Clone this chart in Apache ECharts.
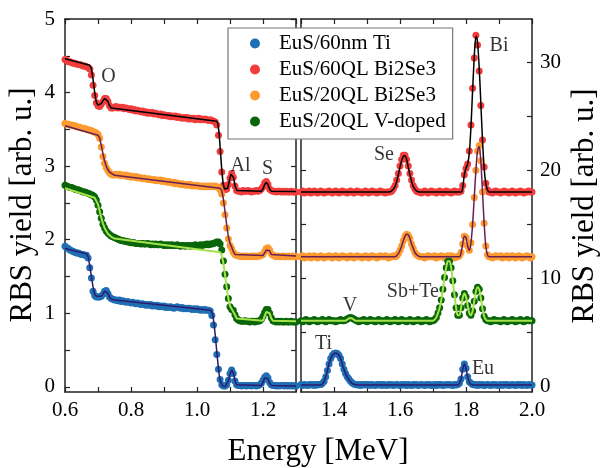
<!DOCTYPE html>
<html><head><meta charset="utf-8">
<script src="https://cdn.jsdelivr.net/npm/echarts@6/dist/echarts.min.js"></script>
<style>html,body{margin:0;padding:0;background:#fff}#c{width:601px;height:468px}</style>
</head><body><div id="c"></div>
<script>
// ---------- data ----------
const sampleNames = ['EuS/60nm Ti', 'EuS/60QL Bi2Se3', 'EuS/20QL Bi2Se3', 'EuS/20QL V-doped'];
const leftEnergyStart = 0.6, rightEnergyStart = 1.3, energyStep = 0.005;

const xTicksLeft = [0.6,0.7,0.8,0.9,1.0,1.1,1.2,1.3];
const xLabelsLeft = [0.6,0.8,1.0,1.2];
const xTicksRight = [1.3,1.4,1.5,1.6,1.7,1.8,1.9,2.0];
const xLabelsRight = [1.4,1.6,1.8,2.0];
const yTicksLeft = [0,0.5,1,1.5,2,2.5,3,3.5,4,4.5,5];
const yLabelsLeft = [0,1,2,3,4,5];
const yTicksRight = [0,5,10,15,20,25,30];
const yLabelsRight = [0,10,20,30];

// measured dots, left panel (0.600 ... 1.300 MeV, 0.005 steps)
const blueLeft = [
1.91,1.89,1.88,1.86,1.85,1.84,1.83,1.82,1.82,1.81,
1.80,1.80,1.79,1.79,1.75,1.62,1.48,1.30,1.24,1.22,
1.22,1.22,1.23,1.26,1.30,1.31,1.27,1.22,1.20,1.19,
1.18,1.18,1.17,1.18,1.16,1.17,1.16,1.15,1.16,1.15,
1.14,1.15,1.14,1.13,1.14,1.13,1.12,1.13,1.12,1.11,
1.12,1.11,1.12,1.10,1.11,1.10,1.11,1.09,1.10,1.09,
1.10,1.08,1.09,1.08,1.09,1.08,1.07,1.08,1.09,1.08,
1.07,1.08,1.06,1.07,1.06,1.07,1.06,1.05,1.06,1.05,
1.06,1.05,1.04,1.05,1.04,1.05,1.04,1.04,1.03,0.97,
0.84,0.64,0.44,0.24,0.10,0.03,0.01,0.01,0.03,0.09,
0.18,0.23,0.18,0.08,0.03,0.02,0.02,0.01,0.02,0.02,
0.01,0.02,0.02,0.01,0.02,0.02,0.01,0.02,0.03,0.05,
0.09,0.13,0.15,0.12,0.06,0.03,0.02,0.02,0.01,0.02,
0.01,0.02,0.02,0.01,0.02,0.01,0.02,0.01,0.02,0.01,
0.01];
const redLeft = [
4.45,4.44,4.42,4.42,4.41,4.40,4.40,4.39,4.38,4.38,
4.37,4.36,4.36,4.35,4.34,4.32,4.24,4.10,3.96,3.86,
3.82,3.81,3.84,3.88,3.92,3.92,3.88,3.82,3.79,3.79,
3.80,3.81,3.79,3.80,3.79,3.80,3.78,3.79,3.78,3.77,
3.78,3.76,3.77,3.75,3.76,3.75,3.74,3.75,3.73,3.74,
3.72,3.73,3.72,3.73,3.71,3.72,3.71,3.70,3.71,3.69,
3.70,3.69,3.68,3.69,3.67,3.68,3.67,3.68,3.66,3.67,
3.66,3.65,3.66,3.65,3.66,3.64,3.65,3.64,3.65,3.63,
3.64,3.65,3.63,3.64,3.63,3.64,3.63,3.62,3.63,3.62,
3.61,3.60,3.56,3.42,3.20,2.92,2.74,2.68,2.69,2.75,
2.84,2.90,2.85,2.73,2.67,2.66,2.66,2.65,2.67,2.66,
2.66,2.67,2.66,2.65,2.66,2.66,2.67,2.66,2.67,2.69,
2.72,2.77,2.79,2.75,2.69,2.67,2.66,2.66,2.65,2.66,
2.66,2.65,2.66,2.65,2.66,2.65,2.65,2.66,2.65,2.65,
2.65];
const orangeLeft = [
3.58,3.57,3.57,3.56,3.56,3.55,3.55,3.54,3.53,3.53,
3.52,3.51,3.51,3.50,3.49,3.49,3.48,3.47,3.46,3.45,
3.43,3.38,3.26,3.13,3.04,2.98,2.94,2.91,2.89,2.88,
2.88,2.89,2.88,2.89,2.87,2.88,2.87,2.88,2.86,2.87,
2.85,2.86,2.85,2.86,2.84,2.85,2.84,2.83,2.84,2.83,
2.82,2.83,2.82,2.81,2.82,2.80,2.81,2.80,2.81,2.79,
2.80,2.79,2.78,2.79,2.78,2.77,2.78,2.76,2.77,2.76,
2.75,2.76,2.75,2.74,2.75,2.74,2.75,2.73,2.74,2.73,
2.74,2.73,2.72,2.73,2.72,2.73,2.72,2.73,2.72,2.73,
2.72,2.73,2.72,2.71,2.68,2.62,2.50,2.34,2.16,2.01,
1.92,1.88,1.83,1.80,1.79,1.78,1.78,1.77,1.78,1.77,
1.78,1.77,1.77,1.78,1.77,1.78,1.77,1.78,1.78,1.79,
1.80,1.84,1.88,1.89,1.86,1.81,1.79,1.78,1.77,1.78,
1.77,1.77,1.78,1.77,1.77,1.78,1.77,1.77,1.78,1.77,
1.77];
const greenLeft = [
2.74,2.73,2.72,2.71,2.71,2.70,2.69,2.68,2.68,2.67,
2.66,2.65,2.65,2.64,2.63,2.62,2.61,2.60,2.58,2.54,
2.47,2.38,2.29,2.21,2.16,2.12,2.09,2.07,2.05,2.04,
2.03,2.02,2.01,2.00,1.99,1.99,1.98,1.98,1.97,1.97,
1.96,1.96,1.96,1.95,1.95,1.95,1.94,1.95,1.94,1.94,
1.95,1.94,1.93,1.94,1.93,1.94,1.93,1.93,1.94,1.93,
1.92,1.93,1.92,1.93,1.92,1.93,1.92,1.92,1.93,1.92,
1.91,1.92,1.92,1.91,1.92,1.92,1.91,1.92,1.92,1.93,
1.92,1.92,1.93,1.92,1.93,1.93,1.94,1.93,1.94,1.94,
1.95,1.96,1.97,1.97,1.94,1.86,1.71,1.53,1.36,1.20,
1.09,1.05,1.04,0.98,0.93,0.91,0.90,0.89,0.89,0.90,
0.89,0.89,0.88,0.89,0.89,0.88,0.89,0.89,0.90,0.92,
0.96,1.01,1.05,1.05,1.00,0.94,0.90,0.89,0.88,0.89,
0.88,0.89,0.88,0.88,0.89,0.88,0.88,0.89,0.88,0.88,
0.88];

// measured dots, right panel (1.300 ... 2.000 MeV, 0.005 steps)
const blueRight = [
0.2,0.1,0.2,0.15,0.1,0.2,0.15,0.2,0.1,0.2,
0.15,0.2,0.2,0.3,0.5,0.9,1.5,2.1,2.6,2.9,
3.05,3.1,3.05,2.9,2.6,2.1,1.6,1.2,0.9,0.7,
0.5,0.35,0.25,0.2,0.15,0.2,0.1,0.2,0.15,0.2,
0.15,0.2,0.1,0.2,0.15,0.1,0.2,0.15,0.2,0.1,
0.2,0.15,0.1,0.2,0.15,0.2,0.1,0.15,0.2,0.15,
0.1,0.2,0.15,0.2,0.1,0.2,0.15,0.1,0.2,0.15,
0.2,0.1,0.15,0.2,0.15,0.1,0.2,0.15,0.2,0.1,
0.15,0.2,0.1,0.2,0.15,0.2,0.1,0.15,0.2,0.15,
0.2,0.15,0.1,0.2,0.15,0.2,0.3,0.7,1.6,2.1,
1.7,0.9,0.45,0.3,0.2,0.15,0.2,0.1,0.2,0.15,
0.2,0.1,0.15,0.2,0.15,0.1,0.2,0.15,0.2,0.1,
0.15,0.2,0.1,0.2,0.15,0.2,0.1,0.15,0.2,0.15,
0.1,0.2,0.15,0.2,0.1,0.2,0.15,0.1,0.2,0.15,
0.15];
const redRight = [
18.0,18.1,17.9,18.0,18.0,18.1,17.9,18.0,18.1,18.0,
17.9,18.0,18.1,18.0,17.9,18.0,18.0,18.1,18.0,17.9,
18.0,18.1,18.0,17.9,18.0,18.1,18.0,18.0,17.9,18.0,
18.1,18.0,17.9,18.0,18.1,18.0,18.0,17.9,18.0,18.1,
18.0,17.9,18.0,18.1,18.0,18.0,17.9,18.0,18.1,18.0,
18.0,17.9,18.0,18.0,18.0,18.1,18.3,18.6,19.1,19.7,
20.4,21.0,21.4,21.4,21.0,20.4,19.7,19.1,18.6,18.3,
18.1,18.0,18.0,17.9,18.0,18.1,18.0,17.9,18.0,18.1,
18.0,18.0,17.9,18.0,18.1,18.0,17.9,18.0,18.1,18.0,
18.0,17.9,18.0,18.1,18.0,18.0,18.0,18.1,18.6,19.6,
20.2,20.6,21.8,24.2,27.6,30.4,32.5,31.6,29.2,26.0,
22.8,20.3,18.8,18.2,18.0,18.0,17.9,18.0,18.1,18.0,
18.0,17.9,18.0,18.1,18.0,18.0,17.9,18.0,18.1,18.0,
17.9,18.0,18.0,18.1,18.0,17.9,18.0,18.0,18.1,18.0,
18.0];
const orangeRight = [
12.0,12.1,11.9,12.0,12.0,12.1,11.9,12.0,12.1,12.0,
11.9,12.0,12.1,12.0,11.9,12.0,12.0,12.1,12.0,11.9,
12.0,12.1,12.0,11.9,12.0,12.1,12.0,12.0,11.9,12.0,
12.1,12.0,11.9,12.0,12.1,12.0,12.0,11.9,12.0,12.1,
12.0,11.9,12.0,12.1,12.0,12.0,11.9,12.0,12.1,12.0,
12.0,12.1,12.0,11.9,12.0,12.0,12.1,12.0,12.1,12.3,
12.6,13.0,13.5,13.9,14.1,14.0,13.7,13.2,12.8,12.4,
12.2,12.1,12.0,12.0,12.0,11.9,12.0,12.1,12.0,12.0,
12.0,12.1,11.9,12.0,12.0,12.1,12.0,11.9,12.0,12.1,
12.0,12.1,12.0,11.9,12.0,12.0,12.1,12.4,13.2,13.9,
13.8,13.0,12.6,13.3,15.0,17.5,20.0,21.8,22.3,20.9,
18.0,15.1,13.0,12.2,12.0,12.0,11.9,12.0,12.1,12.0,
12.0,12.1,11.9,12.0,12.0,12.1,11.9,12.0,12.1,12.0,
11.9,12.0,12.1,12.0,11.9,12.0,12.0,12.1,12.0,11.9,
12.0];
const greenRight = [
6.1,6.0,6.1,6.2,6.1,6.0,6.1,6.1,6.2,6.1,
6.0,6.1,6.1,6.2,6.1,6.0,6.1,6.2,6.1,6.1,
6.1,6.0,6.1,6.1,6.2,6.1,6.1,6.15,6.25,6.35,
6.4,6.35,6.25,6.15,6.1,6.0,6.1,6.1,6.2,6.1,
6.0,6.1,6.2,6.1,6.1,6.0,6.1,6.2,6.1,6.0,
6.1,6.1,6.2,6.1,6.0,6.1,6.1,6.2,6.1,6.0,
6.1,6.2,6.1,6.1,6.0,6.1,6.2,6.1,6.0,6.1,
6.1,6.2,6.1,6.0,6.1,6.1,6.2,6.1,6.0,6.1,
6.1,6.2,6.4,6.8,7.3,8.0,9.0,10.1,11.0,11.6,
11.6,11.0,9.8,8.5,7.3,6.6,6.6,7.3,8.2,8.6,
8.3,7.5,6.8,6.6,7.0,7.9,8.8,9.2,9.0,8.2,
7.2,6.5,6.2,6.1,6.1,6.0,6.1,6.2,6.1,6.1,
6.1,6.0,6.1,6.2,6.1,6.0,6.1,6.1,6.2,6.1,
6.0,6.1,6.1,6.2,6.1,6.0,6.1,6.2,6.1,6.1,
6.1];

// fitted curves [energy MeV, yield]
const blueFitLeft = [[0.6,1.88],[0.665,1.81],[0.67,1.77],[0.675,1.65],[0.68,1.5],[0.685,1.36],[0.69,1.26],[0.695,1.23],[0.70,1.22],[0.71,1.23],[0.715,1.26],[0.72,1.3],[0.725,1.31],[0.73,1.27],[0.735,1.22],[0.74,1.19],[0.75,1.18],[1.042,1.04],[1.047,1.0],[1.052,0.85],[1.057,0.62],[1.062,0.38],[1.067,0.17],[1.072,0.06],[1.077,0.015],[1.085,0.0],[1.09,0.02],[1.095,0.08],[1.1,0.17],[1.105,0.23],[1.11,0.19],[1.115,0.09],[1.12,0.03],[1.125,0.015],[1.195,0.02],[1.2,0.06],[1.205,0.12],[1.21,0.14],[1.215,0.11],[1.22,0.05],[1.225,0.02],[1.3,0.01]];
const redFitLeft = [[0.6,4.46],[0.675,4.37],[0.68,4.33],[0.685,4.18],[0.69,4.0],[0.695,3.87],[0.70,3.83],[0.705,3.83],[0.71,3.85],[0.715,3.89],[0.72,3.92],[0.725,3.92],[0.73,3.88],[0.735,3.82],[0.74,3.79],[0.745,3.785],[1.06,3.61],[1.063,3.58],[1.067,3.45],[1.071,3.2],[1.075,2.95],[1.079,2.77],[1.083,2.69],[1.088,2.67],[1.093,2.7],[1.098,2.8],[1.103,2.89],[1.107,2.9],[1.111,2.84],[1.116,2.72],[1.121,2.67],[1.125,2.66],[1.195,2.66],[1.2,2.69],[1.205,2.75],[1.21,2.78],[1.215,2.75],[1.22,2.69],[1.225,2.66],[1.3,2.655]];
const orangeFitLeft = [[0.6,3.55],[0.70,3.42],[0.705,3.38],[0.71,3.28],[0.715,3.17],[0.72,3.07],[0.725,3.0],[0.73,2.95],[0.735,2.92],[0.74,2.9],[0.75,2.875],[1.07,2.70],[1.075,2.67],[1.08,2.55],[1.085,2.38],[1.09,2.2],[1.095,2.04],[1.1,1.95],[1.105,1.9],[1.11,1.84],[1.115,1.8],[1.12,1.785],[1.2,1.785],[1.205,1.82],[1.21,1.86],[1.215,1.88],[1.22,1.85],[1.225,1.8],[1.23,1.785],[1.3,1.78]];
const greenFitLeft = [[0.6,2.70],[0.69,2.57],[0.695,2.55],[0.70,2.48],[0.705,2.39],[0.71,2.3],[0.715,2.22],[0.72,2.16],[0.725,2.12],[0.73,2.08],[0.74,2.04],[0.75,2.015],[1.07,1.83],[1.075,1.79],[1.08,1.68],[1.085,1.52],[1.09,1.35],[1.095,1.2],[1.1,1.1],[1.105,1.06],[1.11,1.04],[1.115,0.98],[1.12,0.93],[1.125,0.905],[1.2,0.9],[1.205,0.96],[1.21,1.02],[1.215,1.04],[1.22,1.0],[1.225,0.93],[1.23,0.9],[1.3,0.89]];

const blueFitRight = [[1.3,0.15],[1.36,0.15],[1.365,0.25],[1.37,0.5],[1.375,0.9],[1.38,1.5],[1.385,2.1],[1.39,2.6],[1.395,2.9],[1.40,3.05],[1.405,3.1],[1.41,3.05],[1.415,2.9],[1.42,2.6],[1.425,2.1],[1.43,1.6],[1.435,1.2],[1.44,0.9],[1.445,0.65],[1.45,0.45],[1.455,0.3],[1.46,0.22],[1.47,0.15],[1.775,0.15],[1.78,0.3],[1.785,0.7],[1.79,1.6],[1.795,2.1],[1.80,1.7],[1.805,0.9],[1.81,0.4],[1.815,0.2],[1.825,0.15],[2.0,0.15]];
const redFitRight = [[1.3,18.0],[1.565,18.0],[1.575,18.1],[1.585,18.5],[1.595,19.6],[1.6,20.3],[1.605,20.9],[1.61,21.3],[1.615,21.35],[1.62,21.0],[1.625,20.3],[1.63,19.6],[1.64,18.5],[1.65,18.1],[1.66,18.0],[1.785,18.0],[1.79,18.4],[1.795,19.6],[1.8,20.2],[1.805,20.6],[1.81,21.6],[1.815,24.0],[1.82,27.4],[1.825,30.5],[1.828,31.9],[1.831,32.4],[1.835,31.8],[1.84,29.5],[1.845,26.2],[1.85,22.8],[1.855,20.2],[1.86,18.8],[1.865,18.2],[1.87,18.0],[2.0,18.0]];
const orangeFitRight = [[1.3,12.0],[1.585,12.0],[1.595,12.3],[1.6,12.6],[1.605,13.0],[1.61,13.5],[1.615,13.9],[1.62,14.1],[1.625,14.05],[1.63,13.7],[1.635,13.2],[1.64,12.8],[1.645,12.4],[1.655,12.1],[1.665,12.0],[1.78,12.0],[1.785,12.4],[1.79,13.2],[1.795,13.9],[1.80,13.8],[1.805,13.0],[1.81,12.6],[1.815,13.3],[1.82,15.0],[1.825,17.5],[1.83,20.0],[1.835,21.8],[1.84,22.2],[1.845,20.8],[1.85,18.0],[1.855,15.1],[1.86,13.0],[1.865,12.2],[1.87,12.0],[2.0,12.0]];
const greenFitRight = [[1.3,6.1],[1.435,6.1],[1.44,6.2],[1.445,6.3],[1.45,6.35],[1.455,6.3],[1.46,6.2],[1.465,6.1],[1.70,6.1],[1.705,6.2],[1.71,6.4],[1.715,6.8],[1.72,7.3],[1.725,8.0],[1.73,9.0],[1.735,10.1],[1.74,11.0],[1.745,11.6],[1.75,11.6],[1.755,11.0],[1.76,9.8],[1.765,8.5],[1.77,7.3],[1.775,6.6],[1.78,6.6],[1.785,7.3],[1.79,8.2],[1.795,8.6],[1.80,8.3],[1.805,7.5],[1.81,6.8],[1.815,6.6],[1.82,7.0],[1.825,7.9],[1.83,8.8],[1.835,9.2],[1.84,9.0],[1.845,8.2],[1.85,7.2],[1.855,6.5],[1.86,6.2],[1.865,6.1],[2.0,6.1]];

// element annotations [energy, yield]
const labelsLeft = [{name:'O', value:[0.732,4.22]}, {name:'Al', value:[1.132,3.01]}, {name:'S', value:[1.214,2.97]}];
const labelsRight = [{name:'Se', value:[1.5515,21.4]}, {name:'Bi', value:[1.90,31.55]}, {name:'Sb+Te', value:[1.639,8.75]}, {name:'V', value:[1.4485,7.45]}, {name:'Ti', value:[1.368,3.94]}, {name:'Eu', value:[1.8515,1.63]}];

// ---------- styles ----------
const FONT = 'Liberation Serif';
const TXT = '#000';
const AX = '#222';
const dotColors = ['#1f6fb4', '#f23c3c', '#fd9a30', '#0a660a'];
const fitColors = ['#2c1b6e', '#000000', '#6a1f55', '#a6e34a'];
const fitWidths = [1.5, 1.5, 1.5, 2];

const leftDots = [blueLeft, redLeft, orangeLeft, greenLeft];
const rightDots = [blueRight, redRight, orangeRight, greenRight];
const leftFits = [blueFitLeft, redFitLeft, orangeFitLeft, greenFitLeft];
const rightFits = [blueFitRight, redFitRight, orangeFitRight, greenFitRight];

function pairs(arr, start) {
  return arr.map((v, i) => [Math.round((start + energyStep * i) * 1000) / 1000, v]);
}

function xAxis(grid, pos, ticks, labels, min, max, showLabel) {
  return {
    type: 'value', gridIndex: grid, position: pos, min: min, max: max,
    axisLine: { show: true, onZero: false, lineStyle: { color: AX, width: 1.5 } },
    axisTick: { show: true, inside: true, length: 5, customValues: ticks, lineStyle: { color: AX, width: 1.2 } },
    axisLabel: { show: showLabel, customValues: labels, margin: 8, fontFamily: FONT, fontSize: 21, color: TXT,
      formatter: v => Number(v).toFixed(1) },
    splitLine: { show: false }
  };
}
function yAxis(grid, pos, ticks, labels, min, max, showLabel, margin) {
  return {
    type: 'value', gridIndex: grid, position: pos, min: min, max: max,
    axisLine: { show: true, onZero: false, lineStyle: { color: AX, width: 1.5 } },
    axisTick: { show: true, inside: true, length: 5, customValues: ticks, lineStyle: { color: AX, width: 1.2 } },
    axisLabel: { show: showLabel, customValues: labels, margin: margin, fontFamily: FONT, fontSize: 21, color: TXT,
      formatter: v => String(Math.round(v)) },
    splitLine: { show: false }
  };
}

const series = [];
for (let k = 0; k < 4; k++) {
  series.push({ type: 'scatter', name: sampleNames[k], xAxisIndex: 0, yAxisIndex: 0,
    data: pairs(leftDots[k], leftEnergyStart), symbol: 'circle', symbolSize: 7,
    itemStyle: { color: dotColors[k], opacity: 1 }, silent: true, animation: false });
  series.push({ type: 'scatter', name: sampleNames[k], xAxisIndex: 2, yAxisIndex: 3,
    data: pairs(rightDots[k], rightEnergyStart), symbol: 'circle', symbolSize: 7,
    itemStyle: { color: dotColors[k], opacity: 1 }, silent: true, animation: false });
  series.push({ type: 'line', name: sampleNames[k] + ' fit', xAxisIndex: 0, yAxisIndex: 0,
    data: leftFits[k], showSymbol: false, symbol: 'none',
    lineStyle: { color: fitColors[k], width: fitWidths[k] }, silent: true, animation: false });
  series.push({ type: 'line', name: sampleNames[k] + ' fit ', xAxisIndex: 2, yAxisIndex: 3,
    data: rightFits[k], showSymbol: false, symbol: 'none', smooth: 0.3,
    lineStyle: { color: fitColors[k], width: fitWidths[k] }, silent: true, animation: false });
}
const labelStyle = { show: true, position: 'inside', formatter: '{b}', fontFamily: FONT, fontSize: 20, color: TXT };
series.push({ type: 'scatter', name: 'lbl-left', xAxisIndex: 0, yAxisIndex: 0, data: labelsLeft,
  symbolSize: 1, itemStyle: { color: 'rgba(0,0,0,0)' }, label: labelStyle, silent: true, z: 5, animation: false });
series.push({ type: 'scatter', name: 'lbl-right', xAxisIndex: 2, yAxisIndex: 3, data: labelsRight,
  symbolSize: 1, itemStyle: { color: 'rgba(0,0,0,0)' }, label: labelStyle, silent: true, z: 5, animation: false });

const option = {
  backgroundColor: '#fff',
  animation: false,
  grid: [
    { left: 65, right: 305, top: 19, bottom: 76, outerBoundsMode: 'none', containLabel: false },
    { left: 301, right: 69, top: 19, bottom: 76, outerBoundsMode: 'none', containLabel: false }
  ],
  xAxis: [
    xAxis(0, 'bottom', xTicksLeft, xLabelsLeft, 0.6, 1.3, true),
    xAxis(0, 'top', xTicksLeft, xLabelsLeft, 0.6, 1.3, false),
    xAxis(1, 'bottom', xTicksRight, xLabelsRight, 1.3, 2.0, true),
    xAxis(1, 'top', xTicksRight, xLabelsRight, 1.3, 2.0, false)
  ],
  yAxis: [
    yAxis(0, 'left', yTicksLeft, yLabelsLeft, -0.07, 5, true, 10),
    yAxis(0, 'right', yTicksLeft, yLabelsLeft, -0.07, 5, false, 8),
    yAxis(1, 'left', yTicksRight, yLabelsRight, -0.5, 34, false, 8),
    yAxis(1, 'right', yTicksRight, yLabelsRight, -0.5, 34, true, 8)
  ],
  legend: {
    data: sampleNames, orient: 'vertical', left: 228, top: 28,
    icon: 'circle', itemWidth: 10, itemHeight: 10, itemGap: 5,
    padding: [5, 7, 7, 22],
    backgroundColor: '#fff', borderColor: '#777', borderWidth: 1.2, borderRadius: 0,
    textStyle: { fontFamily: FONT, fontSize: 21, color: TXT, lineHeight: 21, padding: [0, 0, 0, 14] },
    selectedMode: false, z: 10
  },
  graphic: [
    { type: 'text', x: 318, y: 452, style: { text: 'Energy [MeV]', fontFamily: FONT, fontSize: 31, fill: TXT, align: 'center', verticalAlign: 'middle' } },
    { type: 'text', x: 23, y: 205, rotation: Math.PI / 2, style: { text: 'RBS yield [arb. u.]', fontFamily: FONT, fontSize: 31, fill: TXT, align: 'center', verticalAlign: 'middle' } },
    { type: 'text', x: 585, y: 206, rotation: Math.PI / 2, style: { text: 'RBS yield [arb. u.]', fontFamily: FONT, fontSize: 31, fill: TXT, align: 'center', verticalAlign: 'middle' } }
  ],
  series: series
};
const chart = echarts.init(document.getElementById('c'), null, { renderer: 'canvas' });
chart.setOption(option);
</script>
</body></html>
